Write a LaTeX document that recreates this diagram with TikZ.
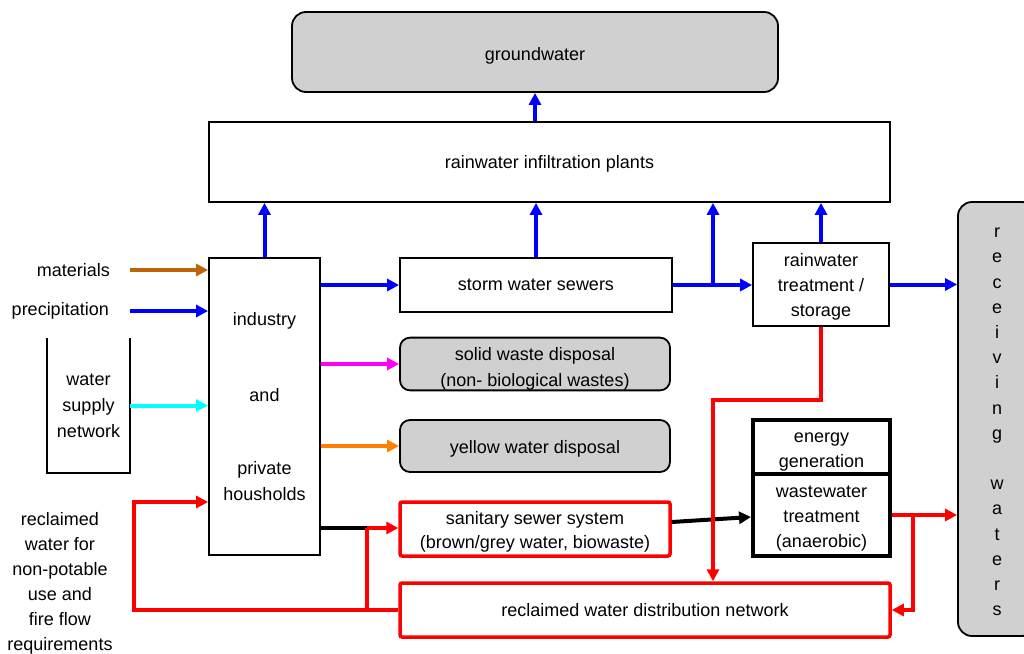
\documentclass[tikz,border=0pt]{standalone}
\usepackage{fontspec}
\setmainfont{Liberation Sans}
\usetikzlibrary{arrows.meta,calc}

\definecolor{boxgrey}{RGB}{208,208,208}
\definecolor{matbrown}{RGB}{192,100,10}
\definecolor{flowblue}{RGB}{0,0,255}
\definecolor{flowcyan}{RGB}{0,255,255}
\definecolor{flowmagenta}{RGB}{255,0,255}
\definecolor{floworange}{RGB}{255,128,0}
\definecolor{flowred}{RGB}{255,0,0}

% invisible strut that lowers a node's text a little
\newcommand{\padtop}[1]{\rule{0pt}{#1}}

\begin{document}
\begin{tikzpicture}[x=1pt,y=-1pt,
  font=\fontsize{18}{25.5}\selectfont,
  plain/.style={draw=black,line width=1.8pt,fill=white,align=center,inner sep=0pt},
  greybox/.style={plain,fill=boxgrey,rounded corners=#1},
  greybox/.default=12pt,
  heavybox/.style={plain,line width=4pt},
  redbox/.style={plain,draw=flowred,line width=3.5pt,rounded corners=2pt},
  flow/.style={line width=4pt,-{Triangle[length=12pt,width=12pt]}},
  label/.style={inner sep=0pt,align=center}]
\useasboundingbox (0,0) rectangle (1024,653);

% boxes
\node[greybox=14pt, minimum width=486pt, minimum height=80pt] (gw) at (535,52) {\padtop{21pt}groundwater};
\node[plain, minimum width=681pt, minimum height=80pt] (inf) at (549.5,162) {\padtop{17pt}rainwater infiltration plants};
\node[plain, minimum width=111pt, minimum height=297pt] (ind) at (264.5,406.5)
  {industry\\[50pt]and\\[48pt]private\\housholds};
\node[plain, minimum width=272pt, minimum height=54pt] (sws) at (536,285) {storm water sewers};
\node[plain, minimum width=136pt, minimum height=83pt, font=\fontsize{18}{25}\selectfont] (rwt) at (821,284.5)
  {\padtop{17pt}rainwater\\treatment /\\storage};
\node[greybox=14pt, minimum width=78pt, minimum height=434pt, font=\fontsize{18}{25.2}\selectfont] (rcv) at (997,419)
  {\padtop{15.4pt}r\\e\\c\\e\\i\\v\\i\\n\\g\\[25.2pt]w\\a\\t\\e\\r\\s};
\node[label, minimum width=83pt, minimum height=135pt, font=\fontsize{18}{26}\selectfont] (wsn) at (88.5,405.5)
  {water\\supply\\network};
\draw[line width=1.8pt] (wsn.north west) |- (wsn.south east) -- (wsn.north east);
\node[greybox=10pt, minimum width=270pt, minimum height=52pt, font=\fontsize{18}{26}\selectfont] (sol) at (535,364)
  {\padtop{23pt}solid waste disposal\\(non- biological wastes)};
\node[greybox=10pt, minimum width=270pt, minimum height=52pt] (yel) at (535,446) {\padtop{19pt}yellow water disposal};
\node[heavybox, minimum width=137pt, minimum height=54pt] (egy) at (821.5,447) {\padtop{19.4pt}energy\\generation};
\node[heavybox, minimum width=137pt, minimum height=82pt, font=\fontsize{18}{25}\selectfont] (wwt) at (821.5,515)
  {\padtop{19.5pt}wastewater\\treatment\\(anaerobic)};
\node[redbox, minimum width=270pt, minimum height=54pt, font=\fontsize{18}{24}\selectfont] (san) at (535,529)
  {\padtop{18.5pt}sanitary sewer system\\(brown/grey water, biowaste)};
\node[redbox, minimum width=490pt, minimum height=54pt] (dist) at (645,610) {reclaimed water distribution network};

% free labels
\node[label, anchor=east] (mat) at (110,270) {materials};
\node[label, anchor=east] (pre) at (109,311) {precipitation};
\node[label, font=\fontsize{18}{25}\selectfont] (rcl) at (60,583)
  {reclaimed\\water for\\non-potable\\use and\\fire flow\\requirements};

% junction points
\coordinate (bs) at (713,285);
\coordinate (j1) at (367,528);
\coordinate (j2) at (913,515);
\coordinate (r1) at (713,400);
\coordinate (lp) at (134,502);

% rainwater paths
\draw[flow,flowblue] (gw.south |- inf.north) -- (gw.south);
\draw[flow,flowblue] (ind.north) -- (ind.north |- inf.south);
\draw[flow,flowblue] (sws.north) -- (sws.north |- inf.south);
\draw[flow,flowblue] (rwt.north) -- (rwt.north |- inf.south);
\draw[flow,flowblue] (sws.east) -- (sws.east -| rwt.west);
\draw[flow,flowblue] (bs) -- (bs |- inf.south);
\draw[flow,flowblue] (rwt.east) -- (rwt.east -| rcv.west);
\draw[flow,flowblue] (ind.east |- sws.west) -- (sws.west);

% inputs and waste outputs of the households
\draw[flow,matbrown] (mat.east -| wsn.east) -- (mat.east -| ind.west);
\draw[flow,flowblue] (pre.east -| wsn.east) -- (pre.east -| ind.west);
\draw[flow,flowcyan] (wsn.east) -- (wsn.east -| ind.west);
\draw[flow,flowmagenta] (ind.east |- sol.west) -- (sol.west);
\draw[flow,floworange] (ind.east |- yel.west) -- (yel.west);

% wastewater and reclaimed water
\draw[line width=4pt] (ind.east |- j1) -- (j1);
\draw[flow,flowred] (j1) -- (j1 -| san.west);
\draw[flow,black] ($(san.east)+(0,-7)$) -- ($(wwt.west)+(0,2)$);
\draw[flow,flowred] (rwt.south) |- (r1) -- (r1 |- dist.north);
\draw[flow,flowred] (wwt.east) -- (wwt.east -| rcv.west);
\draw[flow,flowred] (j2) |- (dist.east);
\draw[flow,flowred] (dist.west) -| (lp) -- (lp -| ind.west);
\draw[line width=4pt,flowred] (j1) -- (j1 |- dist.west);
\end{tikzpicture}
\end{document}
